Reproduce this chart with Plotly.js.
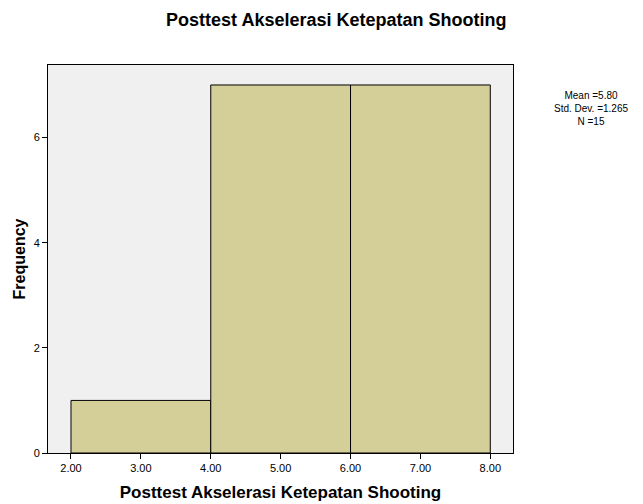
<!DOCTYPE html>
<html><head><meta charset="utf-8">
<script src="https://cdn.plot.ly/plotly-3.0.1.min.js"></script>
<style>body{margin:0;background:#fff}#c{width:643px;height:504px}</style>
</head><body><div id="c"></div>
<script>
const binStarts = [2, 4, 6];
const binEnds = [4, 6, 8];
const frequency = [1, 7, 7];
const xTickVals = [2, 3, 4, 5, 6, 7, 8];
const xTickText = ["2.00", "3.00", "4.00", "5.00", "6.00", "7.00", "8.00"];
const yTickVals = [0, 2, 4, 6];
const statsText = ["Mean =5.80", "Std. Dev. =1.265", "N =15"];
const titleText = "Posttest Akselerasi Ketepatan Shooting";

const centers = binStarts.map((s, i) => (s + binEnds[i]) / 2);
const widths = binStarts.map((s, i) => binEnds[i] - s);

const font = "Liberation Sans, Arial, sans-serif";
Plotly.newPlot('c', [{
  type: 'bar', x: centers, y: frequency, width: widths,
  marker: {color: '#d4ce98', line: {color: '#000', width: 1}},
  hoverinfo: 'none'
}], {
  width: 643, height: 504,
  margin: {l: 48, r: 130, t: 65, b: 51},
  paper_bgcolor: '#fff', plot_bgcolor: '#f0f0f0',
  font: {family: font, color: '#000', size: 11},
  showlegend: false,
  title: {text: '<b>' + titleText + '</b>', x: 0.523, xanchor: 'center', y: 0.96, yanchor: 'middle', font: {size: 18, family: font}},
  xaxis: {range: [1.671, 8.325], tickvals: xTickVals, ticktext: xTickText, ticks: 'outside', ticklen: 5, tickcolor: '#000',
    showgrid: false, zeroline: false, showline: true, linecolor: '#000', mirror: true, linewidth: 1,
    tickfont: {size: 11}, title: {text: '<b>' + titleText + '</b>', font: {size: 17}, standoff: 12}},
  yaxis: {range: [0, 7.38], tickvals: yTickVals, ticks: 'outside', ticklen: 5, tickcolor: '#000',
    showgrid: false, zeroline: false, showline: true, linecolor: '#000', mirror: true, linewidth: 1,
    tickfont: {size: 11}, title: {text: '<b>Frequency</b>', font: {size: 16}, standoff: 4}},
  annotations: [{xref: 'paper', yref: 'paper', x: 1.168, y: 0.942, xanchor: 'center', yanchor: 'top',
    text: statsText.join('<br>'), showarrow: false, align: 'center', font: {size: 10}}]
}, {staticPlot: true});
</script></body></html>
